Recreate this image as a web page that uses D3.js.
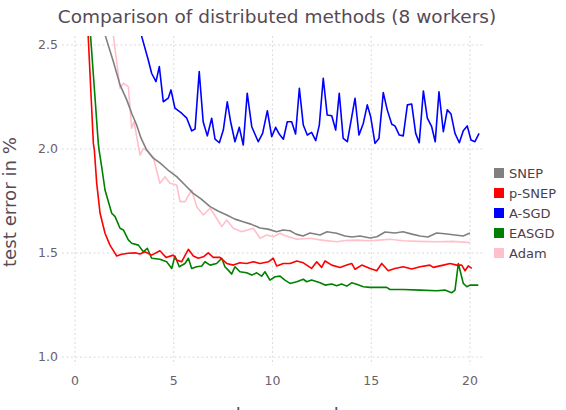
<!DOCTYPE html>
<html>
<head>
<meta charset="utf-8">
<script src="https://cdn.jsdelivr.net/npm/d3@7"></script>
<style>
    body { margin: 0; background: #fff; }
    svg { display: block; font-family: "DejaVu Sans", sans-serif; }
</style>
</head>
<body>
<div id="chart"></div>
<script>

// test error (%) against epochs
const snep = [
    [1.00,2.72],[1.55,2.540],[1.94,2.420],[2.28,2.308],[2.62,2.236],[2.87,2.172],[3.12,2.115],
    [3.34,2.053],[3.63,1.995],[3.95,1.957],[4.30,1.933],[4.71,1.899],[5.15,1.867],[5.57,1.827],
    [5.97,1.788],[6.38,1.760],[6.84,1.723],[7.24,1.702],[7.68,1.683],[8.10,1.663],[8.51,1.650],
    [8.91,1.639],[9.37,1.620],[9.77,1.615],[10.21,1.602],[10.53,1.611],[10.89,1.607],[11.19,1.591],
    [11.54,1.582],[11.90,1.596],[12.41,1.587],[12.76,1.602],[13.25,1.595],[13.67,1.582],[14.03,1.577],
    [14.43,1.582],[14.94,1.572],[15.29,1.578],[15.70,1.601],[16.20,1.596],[16.61,1.602],[17.06,1.591],
    [17.47,1.582],[17.87,1.577],[18.31,1.596],[18.73,1.593],[19.24,1.587],[19.65,1.582],[20.00,1.596]
];

const psnep = [
    [0.60,2.75],[0.67,2.540],[0.93,2.027],[0.98,1.995],[1.10,1.835],[1.27,1.691],[1.52,1.595],
    [1.77,1.538],[2.11,1.486],[2.36,1.494],[2.70,1.499],[3.04,1.501],[3.29,1.495],[3.54,1.506],
    [3.88,1.490],[4.30,1.511],[4.61,1.479],[4.98,1.490],[5.15,1.466],[5.40,1.458],[5.74,1.518],
    [5.99,1.486],[6.24,1.475],[6.50,1.482],[6.75,1.501],[7.00,1.479],[7.34,1.479],[7.68,1.450],
    [8.02,1.442],[8.35,1.453],[8.69,1.450],[9.03,1.458],[9.37,1.450],[9.79,1.458],[10.04,1.475],
    [10.21,1.438],[10.55,1.450],[10.89,1.450],[11.23,1.462],[11.56,1.453],[11.98,1.426],[12.24,1.458],
    [12.49,1.431],[12.66,1.462],[13.00,1.442],[13.42,1.431],[13.76,1.442],[14.01,1.450],[14.18,1.422],
    [14.52,1.442],[14.94,1.426],[15.28,1.415],[15.53,1.450],[15.86,1.415],[16.20,1.426],[16.62,1.434],
    [17.05,1.423],[17.47,1.434],[17.97,1.442],[18.14,1.431],[18.65,1.442],[18.99,1.450],[19.33,1.442],
    [19.58,1.442],[19.75,1.415],[19.91,1.438],[20.09,1.426]
];

const asgd = [
    [2.80,2.80],[3.38,2.540],[3.71,2.428],[3.88,2.364],[4.10,2.324],[4.27,2.396],[4.47,2.227],
    [4.72,2.244],[4.86,2.284],[5.06,2.196],[5.40,2.172],[5.66,2.148],[5.91,2.087],[6.08,2.096],
    [6.29,2.372],[6.49,2.131],[6.70,2.063],[6.92,2.148],[7.09,2.047],[7.31,2.030],[7.51,2.091],
    [7.71,2.227],[7.88,2.131],[8.10,2.035],[8.32,2.104],[8.52,2.019],[8.72,2.268],[8.95,2.107],
    [9.28,2.035],[9.50,2.075],[9.74,2.184],[9.96,2.059],[10.16,2.104],[10.34,2.072],[10.55,2.047],
    [10.75,2.131],[10.97,2.131],[11.17,2.072],[11.36,2.292],[11.56,2.115],[11.76,2.067],[11.98,2.080],
    [12.19,2.040],[12.37,2.115],[12.57,2.340],[12.77,2.163],[13.00,2.160],[13.20,2.091],[13.38,2.268],
    [13.58,2.051],[13.79,2.035],[14.18,2.244],[14.38,2.067],[14.60,2.124],[14.80,2.212],[14.97,2.155],
    [15.19,2.027],[15.39,2.051],[15.61,2.271],[15.81,2.188],[16.04,2.119],[16.20,2.111],[16.42,2.067],
    [16.62,2.063],[16.83,2.212],[17.05,2.216],[17.25,2.075],[17.43,2.030],[17.64,2.279],[17.84,2.148],
    [18.06,2.107],[18.24,2.035],[18.43,2.275],[18.65,2.083],[18.85,2.188],[19.04,2.168],[19.24,2.075],
    [19.46,2.030],[19.66,2.088],[19.86,2.111],[20.05,2.043],[20.25,2.035],[20.46,2.075]
];

const easgd = [
    [0.66,2.72],[0.79,2.540],[1.18,2.027],[1.22,1.995],[1.35,1.915],[1.52,1.803],[1.86,1.691],
    [2.03,1.675],[2.28,1.619],[2.45,1.611],[2.70,1.563],[2.87,1.547],[3.21,1.538],[3.46,1.506],
    [3.66,1.523],[3.88,1.475],[4.30,1.470],[4.64,1.458],[4.90,1.426],[5.06,1.486],[5.28,1.434],
    [5.57,1.450],[5.74,1.475],[5.91,1.426],[6.16,1.434],[6.42,1.438],[6.58,1.458],[6.84,1.442],
    [7.17,1.450],[7.43,1.475],[7.59,1.434],[7.76,1.418],[7.93,1.399],[8.10,1.434],[8.35,1.410],
    [8.69,1.405],[8.95,1.394],[9.20,1.405],[9.45,1.389],[9.62,1.410],[9.87,1.370],[10.13,1.386],
    [10.38,1.389],[10.63,1.370],[10.89,1.354],[11.23,1.362],[11.56,1.374],[11.73,1.362],[11.98,1.370],
    [12.41,1.357],[12.66,1.346],[13.00,1.351],[13.25,1.343],[13.50,1.351],[13.76,1.341],[14.01,1.357],
    [14.26,1.350],[14.60,1.338],[14.94,1.335],[15.78,1.335],[15.95,1.325],[16.62,1.325],[17.47,1.322],
    [18.31,1.319],[18.73,1.322],[19.07,1.309],[19.24,1.322],[19.41,1.450],[19.66,1.354],[19.84,1.338],
    [20.00,1.346],[20.42,1.346]
];

const adam = [
    [1.70,2.73],[1.94,2.548],[2.28,2.292],[2.45,2.316],[2.70,2.300],[2.87,2.100],[2.99,2.131],
    [3.29,1.971],[3.46,2.003],[3.71,1.987],[3.96,1.963],[4.30,1.835],[4.56,1.867],[4.81,1.835],
    [5.15,1.827],[5.32,1.747],[5.57,1.747],[5.91,1.803],[6.16,1.723],[6.50,1.683],[6.84,1.715],
    [7.17,1.667],[7.43,1.627],[7.68,1.659],[8.02,1.619],[8.44,1.602],[9.03,1.619],[9.37,1.571],
    [9.71,1.587],[10.04,1.578],[10.38,1.595],[10.55,1.587],[11.23,1.566],[11.90,1.571],[12.50,1.562],
    [13.25,1.554],[13.70,1.560],[14.26,1.562],[14.94,1.559],[15.40,1.562],[15.95,1.566],[16.62,1.559],
    [17.40,1.556],[18.31,1.554],[19.10,1.556],[20.00,1.550]
];

const seriesNames = ["SNEP", "p-SNEP", "A-SGD", "EASGD", "Adam"];
const seriesColors = ["#808080", "#ff0000", "#0000ff", "#008000", "#ffc0cb"];
const seriesData = [snep, psnep, asgd, easgd, adam];
const drawOrder = [4, 0, 2, 3, 1];

const xTicks = [0, 5, 10, 15, 20];
const yTicks = [1.0, 1.5, 2.0, 2.5];

const titleText = "Comparison of distributed methods (8 workers)";
const xLabel = "epochs per worker";
const yLabel = "test error in %";


function drawChart(wrap) {

    const width = 566, height = 410;
    const left = 62, right = 485, top = 36, bottom = 365;

    const x = d3.scaleLinear().domain([-0.658, 20.76]).range([left, right]);
    const y = d3.scaleLinear().domain([0.962, 2.543]).range([bottom, top]);

    const svg = d3.select(wrap).append("svg")
        .attr("width", width)
        .attr("height", height)
        ;

    svg.append("clipPath").attr("id", "plotclip")
        .append("rect")
        .attr("x", left).attr("y", top)
        .attr("width", right - left).attr("height", bottom - top)
        ;

    // grid
    const grid = svg.append("g")
        .attr("stroke", "#d0d0d8")
        .attr("stroke-width", 0.8)
        .attr("stroke-dasharray", "2,2.5")
        ;
    grid.selectAll("line.v")
        .data(xTicks)
        .join("line")
            .attr("class", "v")
            .attr("x1", d => x(d)).attr("x2", d => x(d))
            .attr("y1", top).attr("y2", bottom)
        ;
    grid.selectAll("line.h")
        .data(yTicks)
        .join("line")
            .attr("class", "h")
            .attr("x1", left).attr("x2", right)
            .attr("y1", d => y(d)).attr("y2", d => y(d))
        ;

    // tick labels
    svg.append("g")
        .attr("fill", "#6c606b")
        .attr("font-size", 12.5)
        .attr("text-anchor", "middle")
    .selectAll("text")
    .data(xTicks)
    .join("text")
        .attr("x", d => x(d))
        .attr("y", 385)
        .text(d => d)
        ;

    svg.append("g")
        .attr("fill", "#6c606b")
        .attr("font-size", 12.5)
        .attr("text-anchor", "end")
    .selectAll("text")
    .data(yTicks)
    .join("text")
        .attr("x", 58)
        .attr("y", d => y(d))
        .attr("dy", "0.35em")
        .text(d => d3.format(".1f")(d))
        ;

    // lines
    const line = d3.line()
        .x(d => x(d[0]))
        .y(d => y(d[1]))
        ;

    svg.append("g")
        .attr("clip-path", "url(#plotclip)")
        .attr("fill", "none")
        .attr("stroke-width", 1.6)
        .attr("stroke-linejoin", "round")
    .selectAll("path")
    .data(drawOrder)
    .join("path")
        .attr("stroke", i => seriesColors[i])
        .attr("d", i => line(seriesData[i]))
        ;

    // legend
    const key = svg.append("g")
        .attr("transform", "translate(494,168)")
    .selectAll("g")
    .data(seriesNames)
    .join("g")
        .attr("transform", (d, i) => `translate(0,${i * 20})`)
        ;
    key.append("rect")
        .attr("width", 10).attr("height", 10)
        .attr("fill", (d, i) => seriesColors[i])
        ;
    key.append("text")
        .attr("x", 15).attr("y", 5)
        .attr("dy", "0.36em")
        .attr("font-size", 13)
        .attr("fill", "#4c404b")
        .text(d => d)
        ;

    // titles
    svg.append("text")
        .attr("x", 277).attr("y", 23)
        .attr("text-anchor", "middle")
        .attr("font-size", 18.5)
        .attr("fill", "#564a55")
        .text(titleText)
        ;

    svg.append("text")
        .attr("x", 277).attr("y", 421)
        .attr("text-anchor", "middle")
        .attr("font-size", 18.5)
        .attr("fill", "#564a55")
        .text(xLabel)
        ;

    svg.append("text")
        .attr("transform", "translate(16,202) rotate(-90)")
        .attr("text-anchor", "middle")
        .attr("font-size", 18.2)
        .attr("fill", "#564a55")
        .text(yLabel)
        ;
}

drawChart("#chart");
</script>
</body>
</html>
